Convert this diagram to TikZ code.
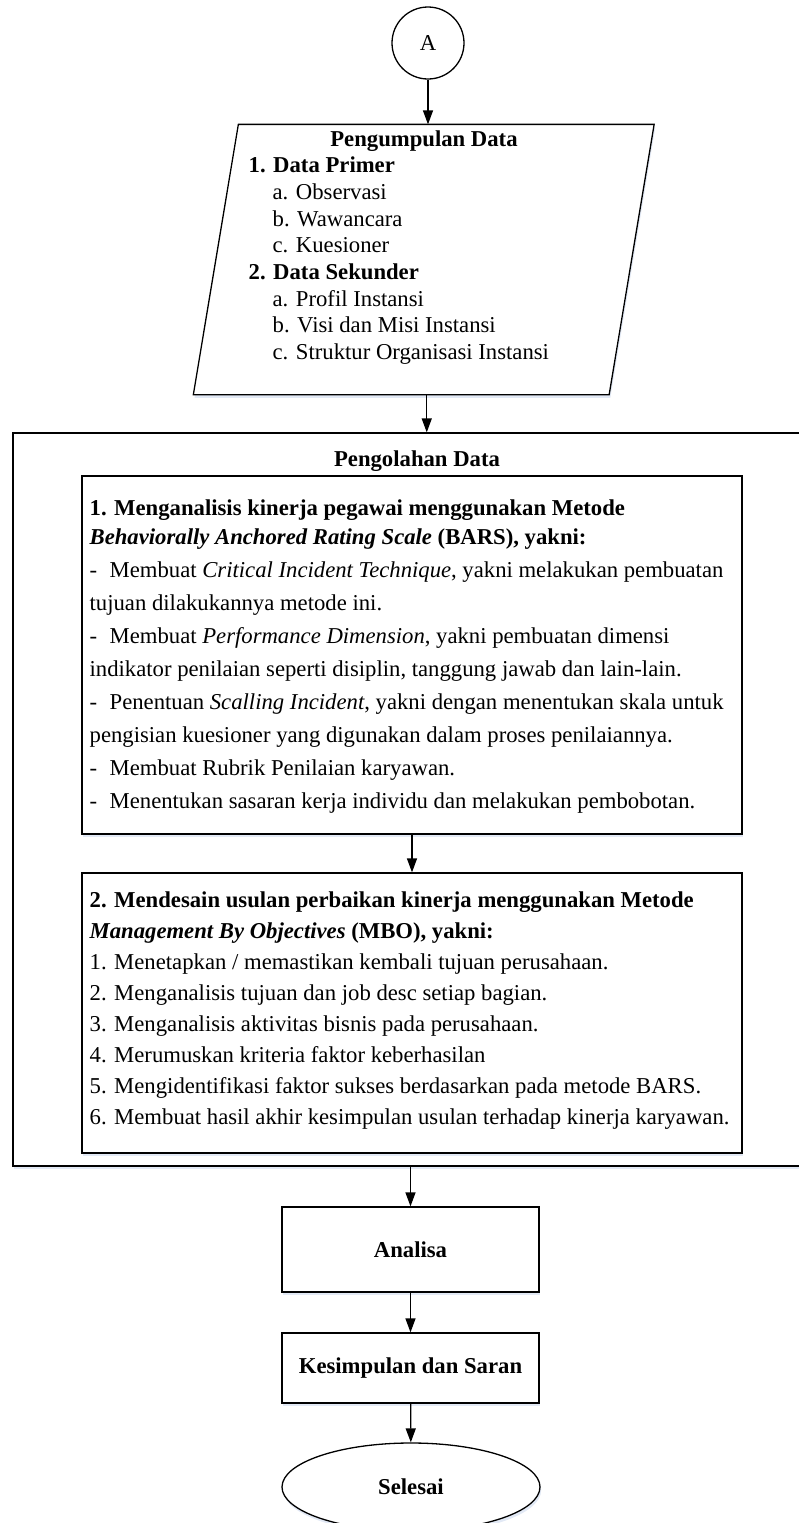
\documentclass[tikz,border=0pt]{standalone}
\usepackage{fontspec}
\setmainfont{Liberation Serif}
\usetikzlibrary{arrows.meta,shapes.geometric,calc,shadows}
\definecolor{shadowc}{RGB}{226,233,245}
\newcommand\fs{\fontsize{11.35pt}{13.6pt}\selectfont}
\newcommand\tline[4]{\node[txt] (#1) at (#2,#3) {#4};}
\newcommand\dsh{\makebox[10pt][l]{-}}
\begin{document}
\begin{tikzpicture}[x=0.5pt,y=-0.5pt,
  line width=0.65pt,
  txt/.style={anchor=base west,inner sep=0pt,font=\fs},
  ctxt/.style={anchor=base,inner sep=0pt,font=\fs\bfseries},
  shd/.style={drop shadow={shadow xshift=0.6pt,shadow yshift=-1.6pt,fill=shadowc,opacity=1}},
  box/.style={draw,rectangle,inner sep=0pt,fill=white,shd},
  arr/.style={-{Triangle[length=7pt,width=5pt]}},
]
\useasboundingbox (0,0) rectangle (799,1523);
\clip (0,0) rectangle (799,1523);

% start connector
\node[draw,circle,minimum size=36pt,inner sep=0pt,font=\fs,fill=white] (A) at (428,43) {A};

% data collection (parallelogram)
\node[minimum width=207.25pt,minimum height=134.5pt,inner sep=0pt] (pg) at (423.75,259.5) {};
\draw[fill=white,shd] ($(pg.north west)+(22.5,0)$) -- ($(pg.north east)+(22.5,0)$)
  -- ($(pg.south east)+(-22.5,0)$) -- ($(pg.south west)+(-22.5,0)$) -- cycle;
\coordinate (pgout) at ($(pg.south)+(3,0)$);
\node[ctxt] (pgt) at (424,146) {Pengumpulan Data};
\tline{p1}{248}{172.7}{\bfseries 1. Data Primer}
\tline{p2}{272}{199.4}{a. Observasi}
\tline{p3}{272}{226.1}{b. Wawancara}
\tline{p4}{272}{252.8}{c. Kuesioner}
\tline{p5}{248}{279.5}{\bfseries 2. Data Sekunder}
\tline{p6}{272}{306.2}{a. Profil Instansi}
\tline{p7}{272}{332.9}{b. Visi dan Misi Instansi}
\tline{p8}{272}{359.6}{c. Struktur Organisasi Instansi}

% processing container
\node[box,minimum width=404pt,minimum height=366.5pt] (big) at (417,799.5) {};
\node[ctxt] (bigt) at (417,466.5) {Pengolahan Data};

% box 1
\node[box,minimum width=330pt,minimum height=179pt] (b1) at (412,655) {};
\tline{a0}{89}{515.5}{\bfseries 1. Menganalisis kinerja pegawai menggunakan Metode}
\tline{a1}{89}{544.5}{\bfseries\itshape Behaviorally Anchored Rating Scale \upshape(BARS), yakni:}
\tline{a2}{89}{577.5}{\dsh Membuat \textit{Critical Incident Technique}, yakni melakukan pembuatan}
\tline{a3}{89}{610.5}{tujuan dilakukannya metode ini.}
\tline{a4}{89}{643.5}{\dsh Membuat \textit{Performance Dimension}, yakni pembuatan dimensi}
\tline{a5}{89}{676.5}{indikator penilaian seperti disiplin, tanggung jawab dan lain-lain.}
\tline{a6}{89}{709.5}{\dsh Penentuan \textit{Scalling Incident}, yakni dengan menentukan skala untuk}
\tline{a7}{89}{742.5}{pengisian kuesioner yang digunakan dalam proses penilaiannya.}
\tline{a8}{89}{775.5}{\dsh Membuat Rubrik Penilaian karyawan.}
\tline{a9}{89}{808.5}{\dsh Menentukan sasaran kerja individu dan melakukan pembobotan.}

% box 2
\node[box,minimum width=330pt,minimum height=140pt] (b2) at (412,1013) {};
\tline{c0}{89}{907.5}{\bfseries 2. Mendesain usulan perbaikan kinerja menggunakan Metode}
\tline{c1}{89}{938.5}{\bfseries\itshape Management By Objectives \upshape(MBO), yakni:}
\tline{c2}{89}{969.5}{1. Menetapkan / memastikan kembali tujuan perusahaan.}
\tline{c3}{89}{1000.5}{2. Menganalisis tujuan dan job desc setiap bagian.}
\tline{c4}{89}{1031.5}{3. Menganalisis aktivitas bisnis pada perusahaan.}
\tline{c5}{89}{1062.5}{4. Merumuskan kriteria faktor keberhasilan}
\tline{c6}{89}{1093.5}{5. Mengidentifikasi faktor sukses berdasarkan pada metode BARS.}
\tline{c7}{89}{1124.5}{6. Membuat hasil akhir kesimpulan usulan terhadap kinerja karyawan.}

% lower steps
\node[box,minimum width=128.5pt,minimum height=42.5pt,font=\fs\bfseries] (an) at (410.5,1249.5) {Analisa};
\node[box,minimum width=128.5pt,minimum height=35pt,font=\fs\bfseries] (ks) at (410.5,1368) {Kesimpulan dan Saran};
\node[draw,ellipse,minimum width=129pt,minimum height=44pt,inner sep=0pt,font=\fs\bfseries,fill=white,shd] (sel) at (411,1487) {Selesai};

% connectors
\draw[arr] (A) -- (A.south |- pg.north);
\draw[arr] (pgout) -- (pgout |- big.north);
\draw[arr] (b1) -- (b2);
\draw[arr] (an.north |- big.south) -- (an.north);
\draw[arr] (an) -- (ks);
\draw[arr] (ks) -- (sel);
\end{tikzpicture}
\end{document}
